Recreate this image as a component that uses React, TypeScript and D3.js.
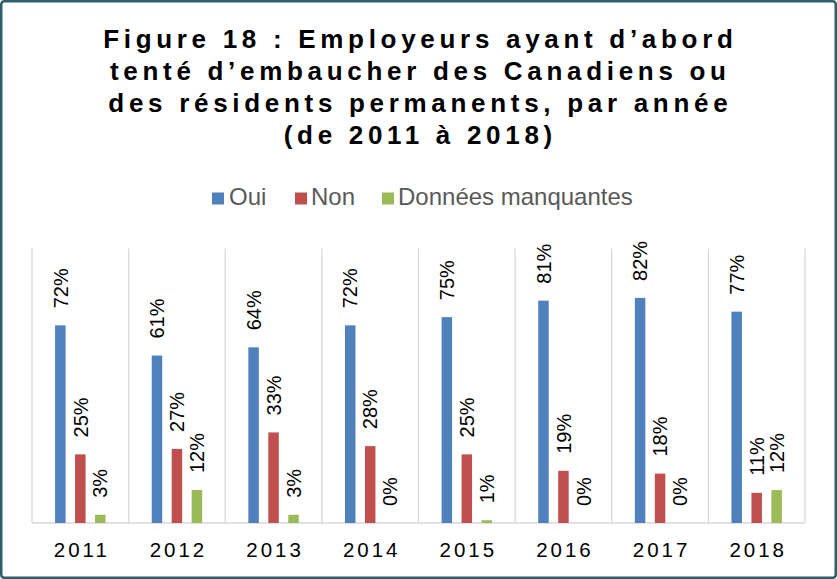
import * as d3 from "d3"
import React from "react"

const years = ["2011", "2012", "2013", "2014", "2015", "2016", "2017", "2018"]
const series = ["Oui", "Non", "Données manquantes"]
const oui = [72, 61, 64, 72, 75, 81, 82, 77]
const non = [25, 27, 33, 28, 25, 19, 18, 11]
const manquantes = [3, 12, 3, 0, 1, 0, 0, 12]
const colors = ["#4f81bd", "#c0504d", "#9bbb59"]
const titleLines = [
  "Figure 18 : Employeurs ayant d’abord",
  "tenté d’embaucher des Canadiens ou",
  "des résidents permanents, par année",
  "(de 2011 à 2018)",
]

const W = 837
const H = 579
const font = "'Liberation Sans', Arial, sans-serif"

export default () => {
  const values = [oui, non, manquantes]
  const left = 32, right = 805, top = 248.5, bottom = 523

  const x0 = d3.scaleBand().domain(years).range([left, right]).padding(0)
  const bw = x0.bandwidth()
  const x1 = d3.scaleBand().domain(series)
    .range([bw * 0.239, bw * 0.761]).paddingInner(0.475).paddingOuter(0)
  const y = d3.scaleLinear().domain([0, 100]).range([bottom, top])

  const titleSpacing = 4.7
  const legendItems = [
    { label: series[0], sq: 212, tx: 229 },
    { label: series[1], sq: 295, tx: 311 },
    { label: series[2], sq: 382, tx: 398 },
  ]

  return (
    <svg width={W} height={H} style={{ position: "absolute", left: 0, top: 0, background: "#fff" }}
      fontFamily={font}>
      <rect x={1.25} y={1.25} width={W - 2.5} height={H - 2.5} rx={3}
        fill="#fff" stroke="#2e5e6c" strokeWidth={2.5} />

      {titleLines.map((t, i) => (
        <text key={i} x={418 + titleSpacing / 2} y={48 + i * 32} textAnchor="middle"
          fontSize={26} fontWeight="bold" letterSpacing={titleSpacing} fill="#000">{t}</text>
      ))}

      {legendItems.map((d, i) => (
        <g key={d.label}>
          <rect x={d.sq} y={192.5} width={12} height={12} fill={colors[i]} />
          <text x={d.tx} y={205} fontSize={24} fill="#595959">{d.label}</text>
        </g>
      ))}

      {/* gridlines between years */}
      {years.map(yr => (
        <line key={yr} x1={x0(yr)} x2={x0(yr)} y1={top} y2={bottom} stroke="#d9d9d9" strokeWidth={1.3} />
      ))}
      <line x1={right} x2={right} y1={top} y2={bottom} stroke="#d9d9d9" strokeWidth={1.3} />
      <line x1={left} x2={right} y1={bottom} y2={bottom} stroke="#d9d9d9" strokeWidth={1.5} />

      {years.map((yr, i) => (
        <g key={yr} transform={`translate(${x0(yr)},0)`}>
          {series.map((s, j) => {
            const v = values[j][i]
            const bx = x1(s)
            const cx = bx + x1.bandwidth() / 2
            const ty = y(v) - 17
            return (
              <g key={s}>
                <rect x={bx} y={y(v)} width={x1.bandwidth()} height={bottom - y(v)} fill={colors[j]} />
                <text transform={`translate(${cx},${ty}) rotate(-90)`} dy="0.36em"
                  fontSize={20} fill="#000">{v}%</text>
              </g>
            )
          })}
          <text x={bw / 2 + 1.5} y={557} textAnchor="middle" fontSize={20.5}
            letterSpacing={3} fill="#000">{yr}</text>
        </g>
      ))}
    </svg>
  )
}
